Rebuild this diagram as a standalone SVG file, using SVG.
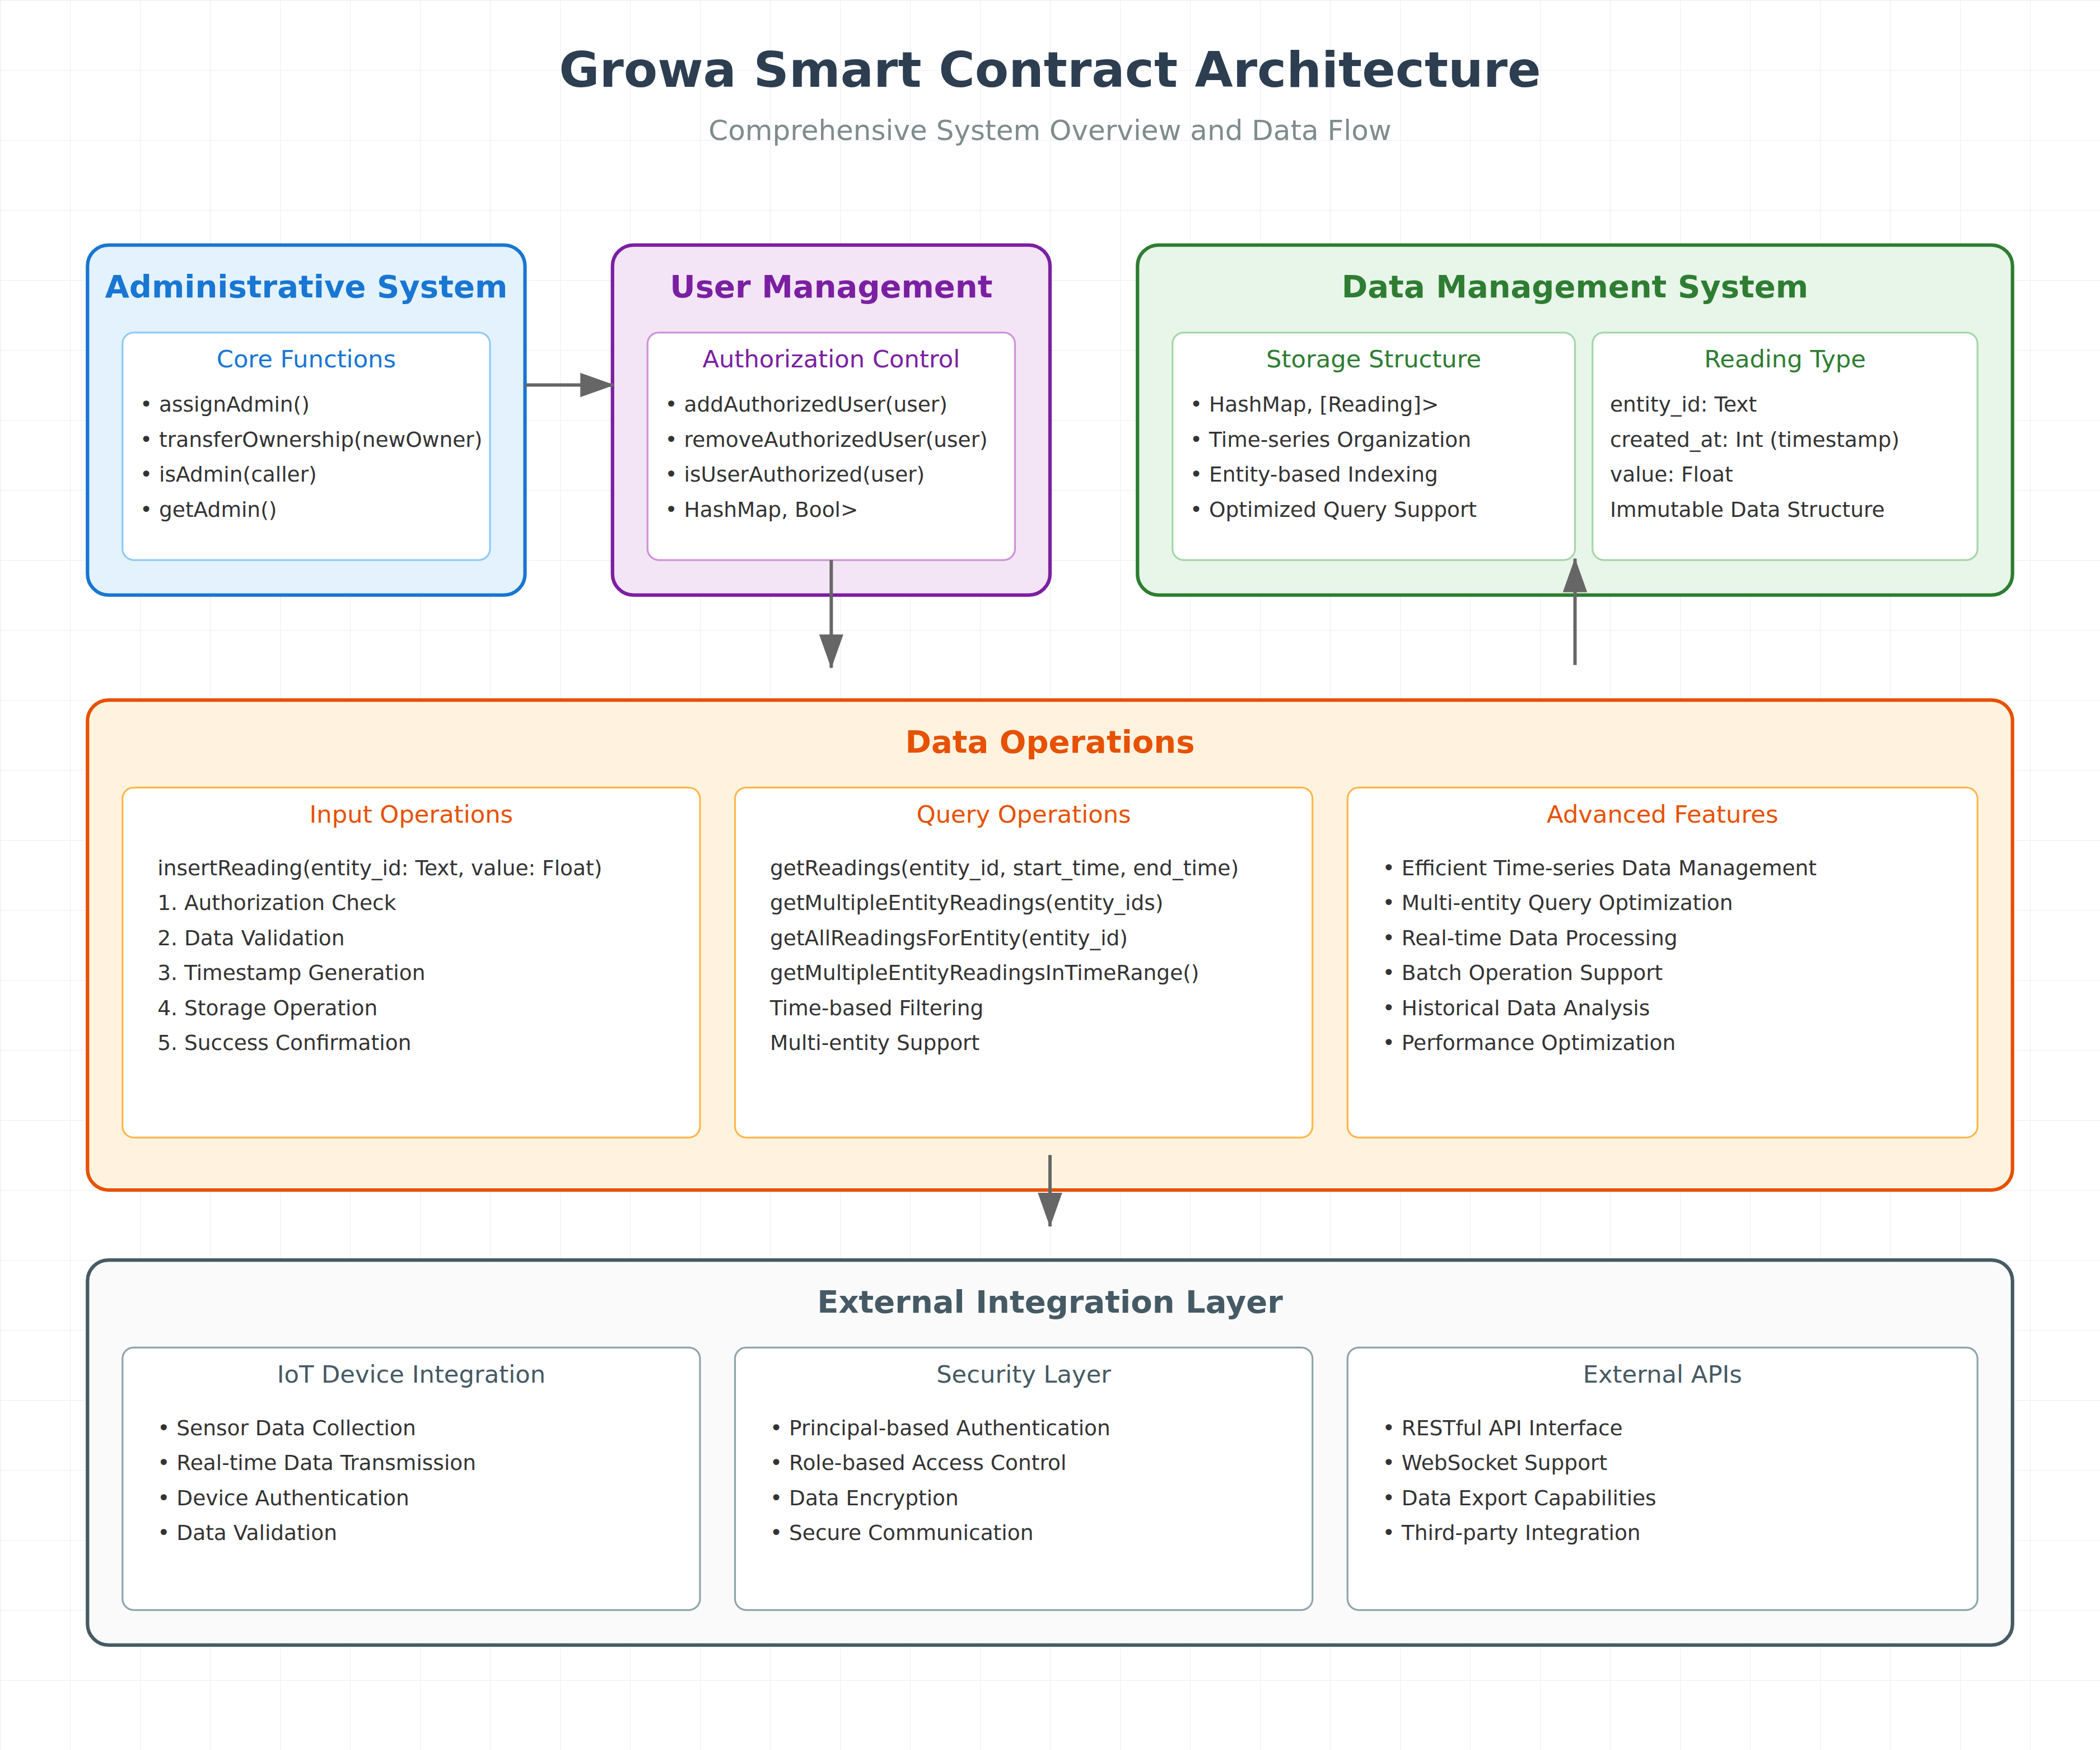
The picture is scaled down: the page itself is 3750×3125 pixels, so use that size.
<svg xmlns="http://www.w3.org/2000/svg" width="3750" height="3125" viewBox="0 0 3750 3125">
<defs>
<pattern id="grid" width="50" height="50" patternUnits="userSpaceOnUse">
<path d="M50 0 L0 0 0 50" fill="none" stroke="#f0f0f0" stroke-width="1"/>
</pattern>
<marker id="ah" markerUnits="userSpaceOnUse" markerWidth="24.5" markerHeight="17.4" refX="24" refY="8.7" orient="auto">
<path d="M0 0 L24.5 8.7 L0 17.4 Z" fill="#666"/>
</marker>
</defs>
<style>
text{font-family:"DejaVu Sans","Liberation Sans",sans-serif}
.title{font-size:35.2px;font-weight:bold;fill:#2c3e50;text-anchor:middle}
.sub{font-size:20px;fill:#7f8c8d;text-anchor:middle}
.bt{font-size:22.4px;font-weight:bold;text-anchor:middle}
.it{font-size:17.3px;text-anchor:middle}
.li{font-size:15px;fill:#333}
.outer{stroke-width:2.5}
.inner{fill:#fff;stroke-width:1.3}
.conn{stroke:#666;stroke-width:2.4;fill:none;marker-end:url(#ah)}
</style>
<g transform="scale(2.5)">
<rect x="0" y="0" width="1500" height="1250" fill="#fff"/>
<rect x="0" y="0" width="1500" height="1250" fill="url(#grid)"/>
<text class="title" x="750" y="62">Growa Smart Contract Architecture</text>
<text class="sub" x="750" y="100">Comprehensive System Overview and Data Flow</text>

<g id="admin">
<rect class="outer" x="62.5" y="175" width="312.5" height="250" rx="15" fill="#e3f2fd" stroke="#1976d2"/>
<text class="bt" x="218.75" y="212.5" fill="#1976d2">Administrative System</text>
<rect class="inner" x="87.5" y="237.5" width="262.5" height="162.5" rx="8" stroke="#90caf9"/>
<text class="it" x="218.75" y="262.5" fill="#1976d2">Core Functions</text>
<text class="li" x="100" y="294">• assignAdmin()</text>
<text class="li" x="100" y="319">• transferOwnership(newOwner)</text>
<text class="li" x="100" y="344">• isAdmin(caller)</text>
<text class="li" x="100" y="369">• getAdmin()</text>
</g>

<g id="user">
<rect class="outer" x="437.5" y="175" width="312.5" height="250" rx="15" fill="#f3e5f5" stroke="#7b1fa2"/>
<text class="bt" x="593.75" y="212.5" fill="#7b1fa2">User Management</text>
<rect class="inner" x="462.5" y="237.5" width="262.5" height="162.5" rx="8" stroke="#ce93d8"/>
<text class="it" x="593.75" y="262.5" fill="#7b1fa2">Authorization Control</text>
<text class="li" x="475" y="294">• addAuthorizedUser(user)</text>
<text class="li" x="475" y="319">• removeAuthorizedUser(user)</text>
<text class="li" x="475" y="344">• isUserAuthorized(user)</text>
<text class="li" x="475" y="369">• HashMap, Bool&gt;</text>
</g>

<g id="datamgmt">
<rect class="outer" x="812.5" y="175" width="625" height="250" rx="15" fill="#e8f5e9" stroke="#2e7d32"/>
<text class="bt" x="1125" y="212.5" fill="#2e7d32">Data Management System</text>
<rect class="inner" x="837.5" y="237.5" width="287.5" height="162.5" rx="8" stroke="#a5d6a7"/>
<text class="it" x="981.25" y="262.5" fill="#2e7d32">Storage Structure</text>
<text class="li" x="850" y="294">• HashMap, [Reading]&gt;</text>
<text class="li" x="850" y="319">• Time-series Organization</text>
<text class="li" x="850" y="344">• Entity-based Indexing</text>
<text class="li" x="850" y="369">• Optimized Query Support</text>
<rect class="inner" x="1137.5" y="237.5" width="275" height="162.5" rx="8" stroke="#a5d6a7"/>
<text class="it" x="1275" y="262.5" fill="#2e7d32">Reading Type</text>
<text class="li" x="1150" y="294">entity_id: Text</text>
<text class="li" x="1150" y="319">created_at: Int (timestamp)</text>
<text class="li" x="1150" y="344">value: Float</text>
<text class="li" x="1150" y="369">Immutable Data Structure</text>
</g>

<g id="dataops">
<rect class="outer" x="62.5" y="500" width="1375" height="350" rx="15" fill="#fff3e0" stroke="#e65100"/>
<text class="bt" x="750" y="537.5" fill="#e65100">Data Operations</text>
<rect class="inner" x="87.5" y="562.5" width="412.5" height="250" rx="8" stroke="#ffb74d"/>
<text class="it" x="293.75" y="587.5" fill="#e65100">Input Operations</text>
<text class="li" x="112.5" y="625">insertReading(entity_id: Text, value: Float)</text>
<text class="li" x="112.5" y="650">1. Authorization Check</text>
<text class="li" x="112.5" y="675">2. Data Validation</text>
<text class="li" x="112.5" y="700">3. Timestamp Generation</text>
<text class="li" x="112.5" y="725">4. Storage Operation</text>
<text class="li" x="112.5" y="750">5. Success Confirmation</text>
<rect class="inner" x="525" y="562.5" width="412.5" height="250" rx="8" stroke="#ffb74d"/>
<text class="it" x="731.25" y="587.5" fill="#e65100">Query Operations</text>
<text class="li" x="550" y="625">getReadings(entity_id, start_time, end_time)</text>
<text class="li" x="550" y="650">getMultipleEntityReadings(entity_ids)</text>
<text class="li" x="550" y="675">getAllReadingsForEntity(entity_id)</text>
<text class="li" x="550" y="700">getMultipleEntityReadingsInTimeRange()</text>
<text class="li" x="550" y="725">Time-based Filtering</text>
<text class="li" x="550" y="750">Multi-entity Support</text>
<rect class="inner" x="962.5" y="562.5" width="450" height="250" rx="8" stroke="#ffb74d"/>
<text class="it" x="1187.5" y="587.5" fill="#e65100">Advanced Features</text>
<text class="li" x="987.5" y="625">• Efficient Time-series Data Management</text>
<text class="li" x="987.5" y="650">• Multi-entity Query Optimization</text>
<text class="li" x="987.5" y="675">• Real-time Data Processing</text>
<text class="li" x="987.5" y="700">• Batch Operation Support</text>
<text class="li" x="987.5" y="725">• Historical Data Analysis</text>
<text class="li" x="987.5" y="750">• Performance Optimization</text>
</g>

<g id="external">
<rect class="outer" x="62.5" y="900" width="1375" height="275" rx="15" fill="#fafafa" stroke="#455a64"/>
<text class="bt" x="750" y="937.5" fill="#455a64">External Integration Layer</text>
<rect class="inner" x="87.5" y="962.5" width="412.5" height="187.5" rx="8" stroke="#90a4ae"/>
<text class="it" x="293.75" y="987.5" fill="#455a64">IoT Device Integration</text>
<text class="li" x="112.5" y="1025">• Sensor Data Collection</text>
<text class="li" x="112.5" y="1050">• Real-time Data Transmission</text>
<text class="li" x="112.5" y="1075">• Device Authentication</text>
<text class="li" x="112.5" y="1100">• Data Validation</text>
<rect class="inner" x="525" y="962.5" width="412.5" height="187.5" rx="8" stroke="#90a4ae"/>
<text class="it" x="731.25" y="987.5" fill="#455a64">Security Layer</text>
<text class="li" x="550" y="1025">• Principal-based Authentication</text>
<text class="li" x="550" y="1050">• Role-based Access Control</text>
<text class="li" x="550" y="1075">• Data Encryption</text>
<text class="li" x="550" y="1100">• Secure Communication</text>
<rect class="inner" x="962.5" y="962.5" width="450" height="187.5" rx="8" stroke="#90a4ae"/>
<text class="it" x="1187.5" y="987.5" fill="#455a64">External APIs</text>
<text class="li" x="987.5" y="1025">• RESTful API Interface</text>
<text class="li" x="987.5" y="1050">• WebSocket Support</text>
<text class="li" x="987.5" y="1075">• Data Export Capabilities</text>
<text class="li" x="987.5" y="1100">• Third-party Integration</text>
</g>

<g id="connectors">
<line class="conn" x1="375" y1="275" x2="438.5" y2="275"/>
<line class="conn" x1="593.75" y1="400" x2="593.75" y2="477"/>
<line class="conn" x1="1125" y1="475" x2="1125" y2="399"/>
<line class="conn" x1="750" y1="825" x2="750" y2="876"/>
</g>
</g>
</svg>
